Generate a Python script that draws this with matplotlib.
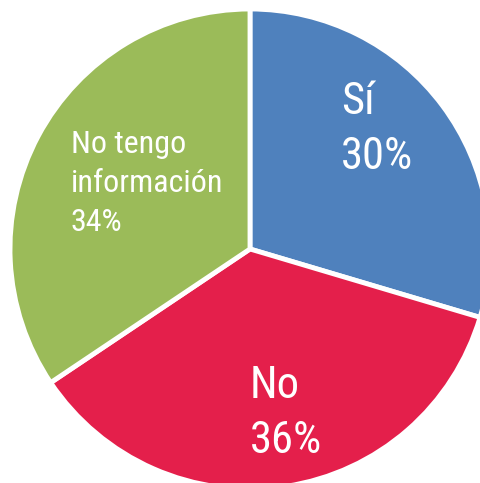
import matplotlib.pyplot as plt
from matplotlib import font_manager

labels = ["Sí", "No", "No tengo\ninformación"]
values = [29.6, 36.0, 34.4]   # shares, labels show them rounded
colors = ["#4F81BD", "#E41F4B", "#9BBB59"]

# label text positions (data units, pie radius = 1) and font sizes
label_x = [0.379, 0.0, -0.746]
label_y = [0.5625, -0.621, 0.40]
label_size = [32, 32, 23]
line_gap = [0.229, 0.227, 0.162]

names = {f.name for f in font_manager.fontManager.ttflist}
fam = [f for f in ["Roboto Condensed", "Liberation Sans Narrow", "Roboto", "DejaVu Sans"] if f in names]

fig = plt.figure(figsize=(4.8, 4.83), dpi=100)
# pie centre at (250, 249) px from top-left, radius 240 px
ax = fig.add_axes([(250 - 240) / 480, (234 - 240) / 483, 480 / 480, 480 / 483])

ax.pie(values, colors=colors, startangle=90, counterclock=False, radius=1,
       wedgeprops=dict(edgecolor="white", linewidth=3.5))
ax.set_xlim(-1, 1)
ax.set_ylim(-1, 1)
ax.set_aspect("equal")
ax.axis("off")

for i in range(len(values)):
    lines = labels[i].split("\n") + [f"{round(values[i])}%"]
    for j, line in enumerate(lines):
        ax.text(label_x[i], label_y[i] - j * line_gap[i], line, color="white",
                fontsize=label_size[i], family=fam, ha="left", va="baseline")

fig.savefig("out.png", dpi=100)
